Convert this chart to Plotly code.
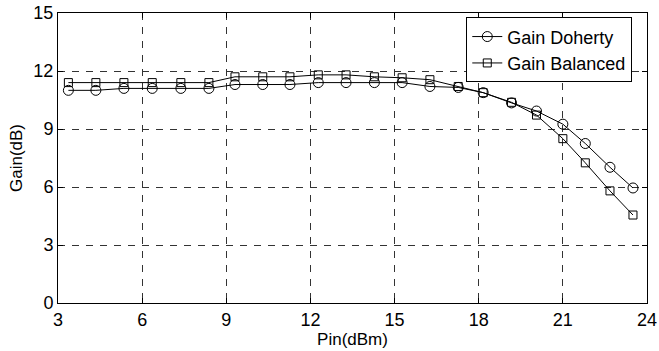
import plotly.graph_objects as go

pin = [3.37, 4.35, 5.35, 6.36, 7.38, 8.38, 9.31, 10.30, 11.27, 12.28, 13.27,
       14.28, 15.27, 16.26, 17.27, 18.16, 19.17, 20.06, 21.0, 21.8, 22.68, 23.5]
gain_doherty = [11.0, 11.0, 11.1, 11.1, 11.1, 11.1, 11.3, 11.3, 11.3, 11.4, 11.4,
                11.4, 11.4, 11.2, 11.15, 10.88, 10.35, 9.93, 9.25, 8.25, 7.02, 5.95]
gain_balanced = [11.4, 11.4, 11.4, 11.4, 11.4, 11.4, 11.7, 11.7, 11.7, 11.8, 11.8,
                 11.7, 11.65, 11.55, 11.2, 10.88, 10.38, 9.72, 8.5, 7.25, 5.8, 4.55]
x_ticks = [3, 6, 9, 12, 15, 18, 21, 24]
y_ticks = [0, 3, 6, 9, 12, 15]

FONT = "Liberation Sans, Arial, Helvetica, sans-serif"

fig = go.Figure()
fig.add_trace(go.Scatter(
    x=pin, y=gain_doherty, mode="lines+markers", name="Gain Doherty",
    line=dict(color="black", width=1),
    marker=dict(symbol="circle-open", size=10, color="black", line=dict(width=1)),
))
fig.add_trace(go.Scatter(
    x=pin, y=gain_balanced, mode="lines+markers", name="Gain Balanced",
    line=dict(color="black", width=1),
    marker=dict(symbol="square-open", size=8, color="black", line=dict(width=1)),
))

axis_common = dict(
    showline=True, linecolor="black", linewidth=1, mirror="ticks",
    ticks="inside", ticklen=5, tickcolor="black", tickwidth=1,
    showgrid=True, gridcolor="#333333", gridwidth=1, griddash="7px,7px",
    zeroline=False, automargin=False, ticklabeloverflow="allow",
    tickfont=dict(family=FONT, size=18, color="black"),
)

fig.update_xaxes(range=[3, 24], tickvals=x_ticks,
                 title=dict(text="Pin(dBm)", font=dict(family=FONT, size=17, color="black"),
                            standoff=0),
                 **axis_common)
fig.update_yaxes(range=[0, 15], tickvals=y_ticks,
                 title=dict(text="Gain(dB)", font=dict(family=FONT, size=17, color="black"),
                            standoff=6),
                 **axis_common)

fig.update_layout(
    width=659, height=351,
    margin=dict(l=58, r=12, t=13, b=48),
    paper_bgcolor="white", plot_bgcolor="white",
    font=dict(family=FONT, color="black"),
    legend=dict(x=0.975, y=0.985, xanchor="right", yanchor="top",
                bgcolor="white", bordercolor="black", borderwidth=1,
                font=dict(family=FONT, size=18, color="black"),
                itemwidth=30, tracegroupgap=0),
    showlegend=True,
)

# remove the default 8px page margin so the figure fills the window exactly
fig.write_html("out.html",
               config={"displayModeBar": False},
               post_script="document.body.style.margin='0';document.body.style.padding='0';")
